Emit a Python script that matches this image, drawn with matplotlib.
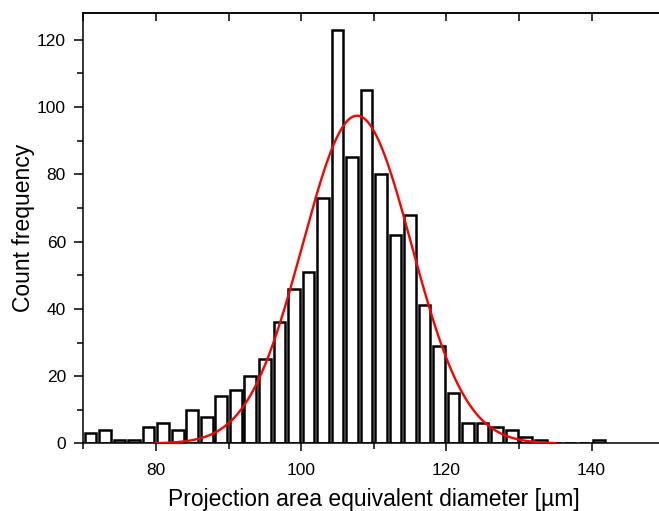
import numpy as np
import matplotlib
matplotlib.use("Agg")
import matplotlib.pyplot as plt
from matplotlib.ticker import MultipleLocator

plt.rcParams['font.family'] = ['Liberation Sans', 'DejaVu Sans']

# histogram bins (centre of each 2 um bin) and counts
bin_centers = [71, 73, 75, 77, 79, 81, 83, 85, 87, 89, 91, 93, 95, 97, 99, 101,
               103, 105, 107, 109, 111, 113, 115, 117, 119, 121, 123, 125, 127,
               129, 131, 133, 135, 137, 139, 141]
counts = [3, 4, 1, 1, 5, 6, 4, 10, 8, 14, 16, 20, 25, 36, 46, 51,
          73, 123, 85, 105, 80, 62, 68, 41, 29, 15, 6, 6, 5,
          4, 2, 1, 0, 0, 0, 1]

# gaussian fit parameters
fit_amp = 97.4
fit_mu = 107.7
fit_sigma = 7.5
fit_range = (80, 135)

fig = plt.figure(figsize=(6.59, 5.11), dpi=100)
# axes runs a little past the right edge, like the cropped original
ax = fig.add_axes([0.1264, 0.1321, 0.8815, 0.8431])

ax.bar(bin_centers, counts, width=1.6, color='white', edgecolor='black', linewidth=1.8, zorder=2)

xs = np.linspace(fit_range[0], fit_range[1], 400)
ys = fit_amp * np.exp(-0.5 * ((xs - fit_mu) / fit_sigma) ** 2)
ax.plot(xs, ys, color='red', linewidth=1.7, zorder=3)

ax.set_xlim(70, 150)
ax.set_ylim(0, 128)

ax.xaxis.set_major_locator(MultipleLocator(20))
ax.xaxis.set_minor_locator(MultipleLocator(10))
ax.yaxis.set_major_locator(MultipleLocator(20))
ax.yaxis.set_minor_locator(MultipleLocator(10))

ax.tick_params(axis='x', which='major', direction='out', length=6, width=1.1, labelsize=12.5, pad=8)
ax.tick_params(axis='x', which='minor', direction='out', length=4, width=1.1)
ax.tick_params(axis='y', which='major', direction='out', length=6.5, width=1.1, labelsize=12.5, pad=6, right=False)
ax.tick_params(axis='y', which='minor', direction='out', length=4.3, width=1.1, right=False)

# top ticks point inwards, every 10
ax2 = ax.secondary_xaxis('top')
ax2.xaxis.set_major_locator(MultipleLocator(10))
ax2.tick_params(axis='x', which='major', direction='in', length=6, width=1.1, labeltop=False)
ax2.xaxis.set_minor_locator(MultipleLocator(1000))
ax2.spines['top'].set_linewidth(1.1)
ax.tick_params(axis='x', which='both', top=False)

for s in ['left', 'bottom', 'top']:
    ax.spines[s].set_linewidth(1.1)
ax.spines['right'].set_visible(False)

ax.set_xlabel('Projection area equivalent diameter [µm]', fontsize=16.5, labelpad=7)
ax.set_ylabel('Count frequency', fontsize=16.5, labelpad=1.5)

fig.savefig('out.png', dpi=100)
